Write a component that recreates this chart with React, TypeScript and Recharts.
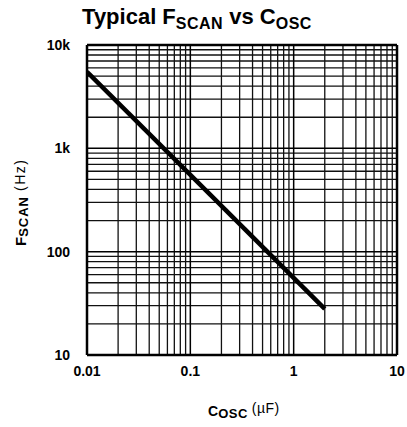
import { LineChart, Line, XAxis, YAxis, ReferenceLine } from 'recharts';

// axis ticks
const xTicks = [0.01, 0.1, 1, 10];
const xTickLabels = ['0.01', '0.1', '1', '10'];
const yTicks = [10, 100, 1000, 10000];
const yTickLabels = ['10', '100', '1k', '10k'];

// log grid lines (minor divisions of each decade)
const xGrid = [
  0.02, 0.03, 0.04, 0.05, 0.06, 0.07, 0.08, 0.09,
  0.2, 0.3, 0.4, 0.5, 0.6, 0.7, 0.8, 0.9,
  2, 3, 4, 5, 6, 7, 8, 9,
];
const yGrid = [
  20, 30, 40, 50, 60, 70, 80, 90,
  200, 300, 400, 500, 600, 700, 800, 900,
  2000, 3000, 4000, 5000, 6000, 7000, 8000, 9000,
];

// typical curve
const cosc = [0.01, 2];
const fscan = [5500, 28];

const data = cosc.map((c, i) => ({ c, f: fscan[i] }));

const FONT = '"Liberation Sans", Arial, sans-serif';
const tickStyle = { fontSize: 14, fontWeight: 700, fill: '#000', fontFamily: FONT };

export default function App() {
  return (
    <div style={{ position: 'relative', width: 407, height: 427, background: '#fff' }}>
      <style>{'body{margin:0}'}</style>
      <div
        style={{
          position: 'absolute',
          left: 0,
          top: 6,
          width: 394,
          textAlign: 'center',
          fontFamily: FONT,
          fontWeight: 700,
          fontSize: 22,
          lineHeight: '22px',
          color: '#000',
          whiteSpace: 'nowrap',
        }}
      >
        Typical F
        <span style={{ fontSize: 16, position: 'relative', top: 5, letterSpacing: 0.5 }}>SCAN</span> vs C
        <span style={{ fontSize: 16, position: 'relative', top: 5, letterSpacing: 0.5 }}>OSC</span>
      </div>
      <LineChart
        width={407}
        height={427}
        data={data}
        margin={{ top: 45, right: 10, left: 27, bottom: 32 }}
      >
        <XAxis
          dataKey="c"
          type="number"
          scale="log"
          domain={[0.01, 10]}
          ticks={xTicks}
          tickFormatter={(v) => xTickLabels[xTicks.indexOf(v)] ?? String(v)}
          allowDataOverflow
          axisLine={false}
          tickLine={false}
          tickSize={0}
          tickMargin={11}
          tick={tickStyle}
          height={40}
          interval={0}
          label={{
            content: () => (
              <text x={208} y={416} fontFamily={FONT} fill="#000">
                <tspan fontSize={14} fontWeight={700}>C</tspan>
                <tspan fontSize={13} fontWeight={700} dy={2} letterSpacing={0.5}>OSC</tspan>
                <tspan fontSize={14} dy={-5} dx={4} letterSpacing={0.5}>(µF)</tspan>
              </text>
            ),
          }}
        />
        <YAxis
          dataKey="f"
          type="number"
          scale="log"
          domain={[10, 10000]}
          ticks={yTicks}
          tickFormatter={(v) => yTickLabels[yTicks.indexOf(v)] ?? String(v)}
          allowDataOverflow
          axisLine={false}
          tickLine={false}
          tickSize={0}
          tickMargin={17}
          tick={tickStyle}
          width={60}
          interval={0}
          label={{
            content: () => (
              <text
                x={0}
                y={0}
                transform="translate(26,246) rotate(-90)"
                fontFamily={FONT}
                fill="#000"
              >
                <tspan fontSize={15} fontWeight={700}>F</tspan>
                <tspan fontSize={13} fontWeight={700} dy={2} letterSpacing={1}>SCAN</tspan>
                <tspan fontSize={14} dy={-3} dx={5} letterSpacing={1.5}>(Hz)</tspan>
              </text>
            ),
          }}
        />
        {xGrid.map((v) => (
          <ReferenceLine key={`gx-${v}`} x={v} stroke="#111" strokeWidth={1.3} />
        ))}
        {yGrid.map((v) => (
          <ReferenceLine key={`gy-${v}`} y={v} stroke="#111" strokeWidth={1.3} />
        ))}
        {[0.1, 1].map((v) => (
          <ReferenceLine key={`mx-${v}`} x={v} stroke="#000" strokeWidth={1.5} />
        ))}
        {[100, 1000].map((v) => (
          <ReferenceLine key={`my-${v}`} y={v} stroke="#000" strokeWidth={1.5} />
        ))}
        <ReferenceLine x={0.01} stroke="#000" strokeWidth={2.5} />
        <ReferenceLine x={10} stroke="#000" strokeWidth={2.5} />
        <ReferenceLine y={10} stroke="#000" strokeWidth={2.5} />
        <ReferenceLine y={10000} stroke="#000" strokeWidth={2.5} />
        <Line
          type="linear"
          dataKey="f"
          stroke="#000"
          strokeWidth={4.5}
          dot={false}
          isAnimationActive={false}
        />
      </LineChart>
    </div>
  );
}
